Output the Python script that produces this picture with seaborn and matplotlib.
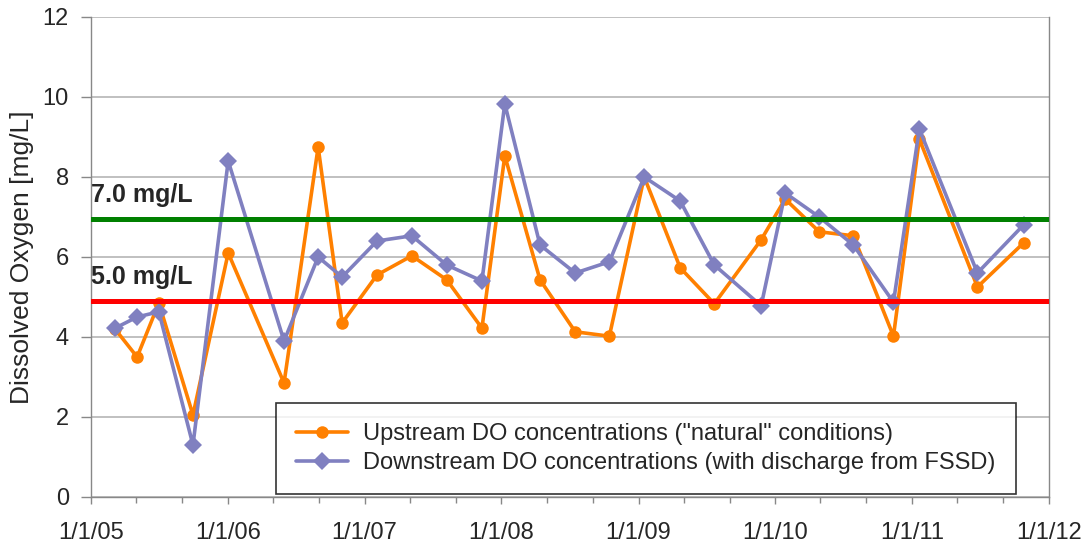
import pandas as pd
import seaborn as sns
import matplotlib.pyplot as plt
import matplotlib.dates as mdates

# sampling dates
dates = pd.to_datetime([
    "2005-03-06", "2005-05-04", "2005-07-01", "2005-09-30", "2006-01-02",
    "2006-05-31", "2006-08-30", "2006-11-02", "2007-02-03", "2007-05-07",
    "2007-08-08", "2007-11-10", "2008-01-10", "2008-04-13", "2008-07-16",
    "2008-10-15", "2009-01-16", "2009-04-22", "2009-07-22", "2009-11-24",
    "2010-01-27", "2010-04-28", "2010-07-28", "2010-11-12", "2011-01-20",
    "2011-06-24", "2011-10-25",
])
upstream = [4.2, 3.5, 4.85, 2.05, 6.1, 2.85, 8.75, 4.35, 5.55, 6.03,
            5.43, 4.22, 8.53, 5.43, 4.13, 4.02, 8.0, 5.73, 4.83, 6.43,
            7.45, 6.63, 6.53, 4.02, 8.95, 5.25, 6.35]
downstream = [4.22, 4.5, 4.63, 1.3, 8.4, 3.9, 6.0, 5.5, 6.4, 6.53,
              5.8, 5.4, 9.83, 6.3, 5.6, 5.88, 8.0, 7.4, 5.8, 4.78,
              7.6, 7.0, 6.3, 4.87, 9.2, 5.6, 6.8]
up_label = 'Upstream DO concentrations ("natural" conditions)'
down_label = "Downstream DO concentrations (with discharge from FSSD)"
limits = [6.95, 4.9]
limit_labels = ["7.0 mg/L", "5.0 mg/L"]
limit_colors = ["#008000", "#ff0000"]

sns.set_style("white")
plt.rcParams["font.family"] = ["Liberation Sans", "DejaVu Sans"]

fig = plt.figure(figsize=(10.81, 5.44), dpi=100)
ax = fig.add_axes([0.0842, 0.0864, 0.9704 - 0.0842, 0.9688 - 0.0864])

ax.yaxis.grid(True, color="#c0c0c0", linewidth=1.4)
ax.set_axisbelow(True)

sns.lineplot(x=dates, y=upstream, ax=ax, color="#ff8000", marker="o",
             markersize=9, markeredgewidth=0, linewidth=2.6, label=up_label)
sns.lineplot(x=dates, y=downstream, ax=ax, color="#8080c0", marker="D",
             markersize=9, markeredgewidth=0, linewidth=2.6, label=down_label)

for val, lab, col in zip(limits, limit_labels, limit_colors):
    ax.axhline(val, color=col, linewidth=3.6, zorder=3)
    ax.text(pd.Timestamp("2004-12-31"), val + 0.3, lab, fontsize=18,
            fontweight="bold", ha="left", va="bottom")

ax.set_xlim(pd.Timestamp("2005-01-01"), pd.Timestamp("2012-01-01"))
ax.set_ylim(0, 12)
ax.set_yticks(range(0, 13, 2))
ax.xaxis.set_major_locator(mdates.YearLocator())
ax.xaxis.set_major_formatter(mdates.DateFormatter("%-m/%-d/%y"))
ax.xaxis.set_minor_locator(mdates.MonthLocator(bymonth=[5, 9]))

ax.set_ylabel("Dissolved Oxygen [mg/L]", fontsize=19, labelpad=6)
ax.set_xlabel("")
ax.tick_params(axis="both", which="major", direction="out",
               width=1, color="#888888", labelsize=17)
ax.tick_params(axis="y", which="major", length=7, pad=9)
ax.tick_params(axis="x", which="major", length=5, pad=13)
ax.tick_params(axis="x", which="minor", direction="out", length=4,
               width=1, color="#888888")
ax.xaxis.set_ticks_position("bottom")
ax.yaxis.set_ticks_position("left")

for side in ["left", "bottom", "right"]:
    ax.spines[side].set_color("#888888")
    ax.spines[side].set_linewidth(1)
ax.spines["top"].set_visible(False)

leg = ax.legend(loc="lower left", bbox_to_anchor=(0.2553, 0.0919),
                bbox_transform=fig.transFigure, fontsize=17, frameon=True,
                fancybox=False, edgecolor="black", handlelength=2.2,
                borderpad=0.85, handletextpad=0.65, labelspacing=0.3,
                borderaxespad=0)
leg.get_frame().set_linewidth(1.2)

fig.savefig("out.png", dpi=100)
